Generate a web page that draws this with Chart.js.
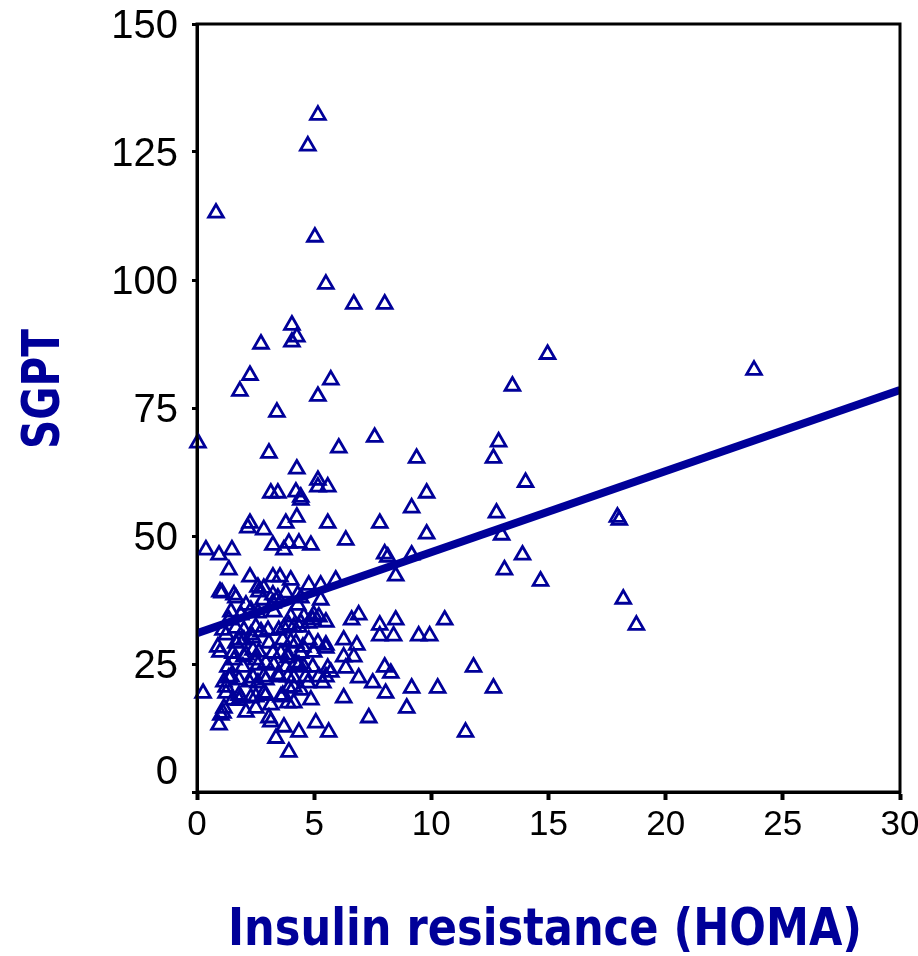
<!DOCTYPE html>
<html>
<head>
<meta charset="utf-8">
<title>SGPT vs insulin resistance</title>
<script src="https://cdn.jsdelivr.net/npm/chart.js@4.4.1/dist/chart.umd.min.js"></script>
<style>
  html, body { margin: 0; padding: 0; background: #fff; }
  #wrap { width: 918px; height: 956px; }
</style>
</head>
<body>
<div id="wrap"><canvas id="chart" width="918" height="956"></canvas></div>
<script>
// Scatter of SGPT against HOMA insulin resistance, with fitted line

const homa = [
  5.16, 4.73, 0.81, 5.03, 5.5, 6.69, 8.01, 4.05, 4.26, 4.05,
  2.73, 2.26, 1.83, 5.71, 5.16, 3.41, 0.04, 3.07, 6.05, 7.58,
  9.37, 4.26, 14.96, 13.46, 23.77, 12.87, 12.65, 5.16, 5.16, 5.58,
  3.15, 3.45, 4.22, 4.43, 4.43, 4.26, 3.79, 2.26, 2.17, 2.85,
  5.58, 7.8, 6.35, 3.24, 3.71, 3.92, 4.35, 4.86, 0.38, 0.94,
  1.49, 1.36, 0.98, 1.07, 1.58, 1.66, 2.26, 2.6, 2.85, 3.24,
  3.54, 4.0, 3.24, 3.45, 4.77, 5.28, 5.92, 4.3, 4.43, 5.28,
  4.3, 3.24, 3.28, 2.6, 4.0, 4.56, 4.98, 6.6, 6.9, 2.64,
  3.79, 2.3, 8.01, 8.14, 9.16, 13.89, 8.48, 13.12, 14.66, 9.8,
  9.16, 12.78, 9.8, 13.0, 14.02, 17.94, 18.02, 18.19, 18.75, 7.8,
  8.48, 10.57, 7.8, 8.39, 9.46, 9.93, 11.8, 8.01, 8.27, 7.5,
  9.16, 10.27, 12.65, 8.05, 8.95, 7.33, 11.46, 5.5, 5.2, 6.26,
  6.82, 5.5, 5.5, 6.26, 6.69, 6.35, 5.71, 5.5, 6.9, 6.26,
  5.07, 5.62, 0.26, 0.89, 0.98, 3.92, 3.37, 3.71, 4.35, 3.07,
  3.15, 0.94, 1.11, 1.15, 2.51, 5.58, 4.73, 4.13, 4.56, 1.36,
  1.79, 1.79, 2.3, 2.85, 3.58, 3.88, 4.13, 1.24, 1.32, 1.58,
  2.0, 2.51, 2.94, 2.39, 1.66, 2.0, 2.3, 2.73, 3.71, 4.13,
  4.43, 4.94, 4.0, 4.52, 3.58, 3.24, 3.88, 4.22, 2.85, 3.45,
  3.88, 2.22, 2.6, 1.45, 1.15, 1.66, 2.0, 2.51, 3.03, 3.92,
  4.77, 1.79, 2.39, 3.07, 3.66, 4.22, 4.77, 5.16, 1.53, 2.09,
  2.64, 4.43, 4.98, 1.96, 2.6, 3.28, 3.79, 4.94, 1.79, 2.39,
  2.94, 4.13, 4.64, 5.2, 1.24, 2.51, 2.94, 3.66, 3.92, 5.37,
  1.02, 3.49, 4.35, 3.88, 4.35, 3.49, 1.87, 2.81, 2.09, 1.87,
  1.36, 1.24, 1.45, 1.11, 3.15, 2.09, 1.53, 4.43, 4.86
];

const sgpt = [
  132.2, 126.2, 113.1, 108.4, 99.2, 95.3, 95.3, 91.2, 88.9, 87.9,
  87.5, 81.4, 78.3, 80.5, 77.3, 74.2, 68.2, 66.2, 67.2, 69.3,
  65.2, 63.1, 85.5, 79.3, 82.4, 68.4, 65.2, 60.9, 59.6, 59.6,
  58.4, 58.4, 58.6, 57.6, 57.0, 53.7, 52.5, 52.5, 51.6, 51.2,
  52.5, 52.5, 49.2, 48.2, 47.3, 48.6, 48.6, 48.2, 47.3, 46.3,
  47.3, 43.4, 39.1, 38.9, 38.5, 37.9, 42.0, 40.0, 39.8, 42.0,
  42.0, 41.4, 38.5, 37.9, 40.4, 40.4, 41.4, 38.5, 37.9, 37.5,
  36.5, 36.9, 35.2, 35.0, 34.2, 34.2, 34.6, 33.6, 34.6, 39.1,
  38.9, 35.5, 46.5, 45.9, 46.3, 46.3, 42.2, 43.4, 41.2, 58.4,
  55.5, 54.5, 50.4, 50.2, 60.5, 53.7, 53.1, 37.7, 32.6, 32.6,
  33.6, 33.6, 30.5, 30.5, 30.5, 30.5, 24.4, 24.4, 23.2, 21.3,
  20.3, 20.3, 20.3, 19.3, 16.4, 14.5, 11.7, 33.2, 34.2, 29.7,
  28.7, 28.7, 28.1, 26.4, 26.4, 24.2, 23.4, 22.5, 22.3, 18.4,
  13.5, 11.7, 19.3, 28.3, 27.3, 7.8, 10.5, 12.7, 11.7, 14.5,
  13.7, 13.1, 15.4, 16.4, 16.4, 24.2, 21.3, 20.5, 24.4, 22.3,
  18.9, 17.9, 18.4, 19.3, 18.6, 17.4, 17.4, 19.3, 24.4, 25.8,
  26.4, 25.8, 25.2, 27.7, 29.1, 29.7, 30.7, 31.3, 32.0, 32.2,
  33.0, 33.6, 29.3, 28.3, 27.1, 27.1, 26.2, 25.2, 22.5, 22.9,
  22.5, 21.5, 21.3, 22.5, 21.5, 32.0, 31.6, 32.2, 31.6, 32.6,
  33.0, 29.7, 30.1, 29.1, 29.7, 29.1, 29.7, 29.1, 27.1, 26.8,
  27.3, 27.1, 27.3, 24.4, 24.8, 24.8, 24.4, 24.4, 21.9, 22.3,
  21.9, 22.3, 22.5, 22.5, 20.5, 18.6, 18.9, 18.9, 20.3, 21.3,
  15.0, 31.6, 32.2, 26.8, 24.8, 22.5, 18.4, 37.5, 36.5, 34.6,
  33.6, 30.7, 35.2, 31.6, 17.0, 15.6, 18.0, 19.9, 18.0
];

// regression line end points
const fitX = [0, 30];
const fitY = [31.0, 78.5];

const xTicks = [0, 5, 10, 15, 20, 25, 30];
const yTicks = [0, 25, 50, 75, 100, 125, 150];

const xTitle = 'Insulin resistance (HOMA)';
const yTitle = 'SGPT';

const BLUE = '#000099';

// Draws the box, tick labels and axis titles
const axisDecor = {
  id: 'axisDecor',
  afterDraw(chart) {
    const { ctx, chartArea: a, scales: { x, y } } = chart;
    ctx.save();

    ctx.strokeStyle = '#000';
    ctx.lineWidth = 3;
    ctx.strokeRect(a.left, a.top, a.right - a.left, a.bottom - a.top);

    ctx.fillStyle = '#000';
    ctx.font = '40px "Liberation Sans", Arial, sans-serif';
    ctx.textAlign = 'right';
    ctx.textBaseline = 'alphabetic';
    yTicks.forEach(v => {
      // the zero label sits a bit higher so it clears the x labels
      const py = y.getPixelForValue(v) + (v === 0 ? -22 : 0);
      ctx.fillText(String(v), 178, py + 14);
    });

    ctx.font = '35px "Liberation Sans", Arial, sans-serif';
    ctx.textAlign = 'center';
    xTicks.forEach(v => {
      ctx.fillText(String(v), x.getPixelForValue(v), 835);
    });

    ctx.fillStyle = BLUE;
    ctx.font = 'bold 52px "DejaVu Sans Condensed", "DejaVu Sans", sans-serif';
    drawFitted(ctx, xTitle, 545, 945, 634, 0);
    ctx.font = 'bold 52px "DejaVu Sans Condensed", "DejaVu Sans", sans-serif';
    drawFitted(ctx, yTitle, 59, 389, 120, -Math.PI / 2);

    ctx.restore();
  }
};

function drawFitted(ctx, text, cx, cy, width, angle) {
  const w = ctx.measureText(text).width;
  ctx.save();
  ctx.translate(cx, cy);
  ctx.rotate(angle);
  ctx.scale(width / w, 1);
  ctx.textAlign = 'center';
  ctx.textBaseline = 'alphabetic';
  ctx.fillText(text, 0, 0);
  ctx.restore();
}

const points = homa.map((h, i) => ({ x: h, y: sgpt[i] }));
const fitLine = fitX.map((fx, i) => ({ x: fx, y: fitY[i] }));

new Chart(document.getElementById('chart'), {
  type: 'scatter',
  data: {
    datasets: [
      {
        label: 'Fit',
        data: fitLine,
        showLine: true,
        borderColor: BLUE,
        borderWidth: 8,
        pointRadius: 0,
        order: 0,
      },
      {
        label: 'SGPT',
        data: points,
        pointStyle: 'triangle',
        pointRadius: 8.5,
        pointBorderWidth: 2.8,
        pointBorderColor: BLUE,
        pointBackgroundColor: 'rgba(0,0,0,0)',
        clip: false,
        order: 1,
      },
    ],
  },
  plugins: [axisDecor],
  options: {
    responsive: false,
    devicePixelRatio: 1,
    animation: false,
    layout: { padding: { left: 187, right: 18, top: 24, bottom: 154 } },
    plugins: {
      legend: { display: false },
      tooltip: { enabled: false },
    },
    scales: {
      x: {
        type: 'linear',
        min: 0,
        max: 30,
        afterFit: s => { s.height = 10; },
        ticks: { display: false, stepSize: 5 },
        grid: {
          drawOnChartArea: false,
          drawTicks: true,
          tickLength: 8,
          tickWidth: 4,
          tickColor: '#000',
        },
        border: { display: true, color: '#000', width: 3 },
      },
      y: {
        type: 'linear',
        min: 0,
        max: 150,
        afterFit: s => { s.width = 10; },
        ticks: { display: false, stepSize: 25 },
        grid: {
          drawOnChartArea: false,
          drawTicks: true,
          tickLength: 5,
          tickWidth: 3,
          tickColor: '#000',
        },
        border: { display: true, color: '#000', width: 3 },
      },
    },
  },
});
</script>
</body>
</html>
